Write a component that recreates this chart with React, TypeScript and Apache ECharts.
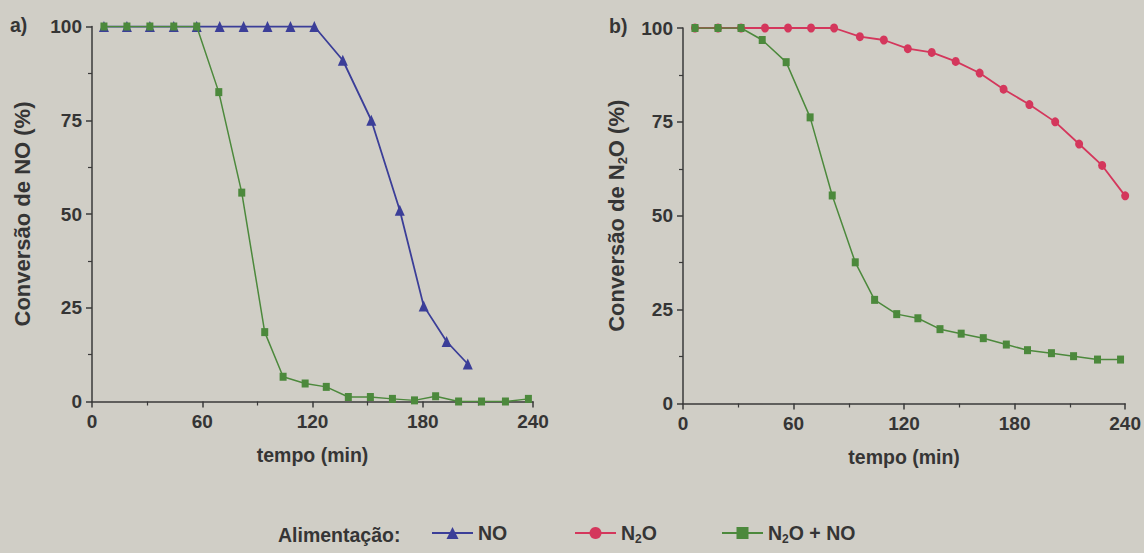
import React, { useEffect, useRef } from "react";
import * as echarts from "echarts";

// ---- data ----
const noTime = [6.5, 19, 31.5, 44.5, 57, 69.5, 82.5, 95.5, 108, 121, 136.5, 152, 167.5, 180.5, 193, 204.5];
const noConv = [100, 100, 100, 100, 100, 100, 100, 100, 100, 100, 91, 75, 51, 25.5, 16, 10];

const mixTimeA = [6.5, 19, 31.5, 44.5, 57, 69, 81.5, 94, 104, 116, 127.5, 139.5, 151.5, 163.5, 175.5, 187, 199.5, 212, 225, 237.5];
const mixConvA = [100, 100, 100, 100, 100, 82.5, 55.7, 18.5, 6.6, 4.8, 3.9, 1.2, 1.2, 0.7, 0.3, 1.4, 0, 0, 0, 0.7];

const n2oTime = [6.5, 19, 31.5, 44.5, 57, 69.5, 82, 96, 109, 122, 135, 148, 161, 174, 188, 202, 215, 227.5, 240];
const n2oConv = [100, 100, 100, 100, 100, 100, 100, 97.7, 96.8, 94.5, 93.5, 91.1, 88, 83.7, 79.6, 75, 69.1, 63.4, 55.3];

const mixTimeB = [6.5, 19, 31.5, 43, 56, 69, 81, 93.5, 104, 116, 127.5, 139.5, 151, 163, 175.5, 187, 200, 212, 225, 237.5];
const mixConvB = [100, 100, 100, 96.8, 90.9, 76.2, 55.4, 37.6, 27.6, 23.8, 22.7, 19.8, 18.6, 17.4, 15.7, 14.2, 13.4, 12.6, 11.7, 11.7];

const xTicks = { min: 0, max: 240, interval: 60 };
const yTicks = { min: 0, max: 100, interval: 25 };

const panelLabels = ["a)", "b)"];
const xName = "tempo (min)";
const yNames = ["{t|Conversão de NO (%)}", "{t|Conversão de N}{s|2}{t|O (%)}"];
const legendTitle = "Alimentação:";

// ---- styles ----
const BG = "#d0cec6";
const TXT = "#353535";
const AX = "#3a3a3a";
const BLUE = "#3b3e98";
const RED = "#d4375c";
const GREEN = "#4c893c";
const F = '"Liberation Sans",Arial,sans-serif';
const FS = 19.5;
const FT = 19;

const zip = (xs: number[], ys: number[]) => xs.map((x, i) => [x, ys[i]]);

export default function App() {
  const ref = useRef<HTMLDivElement>(null);
  useEffect(() => {
    if (!ref.current) return;
    const chart = echarts.init(ref.current, undefined, { renderer: "svg" });

    const richT = { fontFamily: F, fontSize: FS, fontWeight: "bold", color: TXT, lineHeight: 24 };
    const richS = { fontFamily: F, fontSize: 12, fontWeight: "bold", color: TXT, lineHeight: 9, verticalAlign: "bottom" };
    const richTR = { fontFamily: F, fontSize: 22, fontWeight: "bold", color: TXT, lineHeight: 26 };
    const richSR = { fontFamily: F, fontSize: 13, fontWeight: "bold", color: TXT, lineHeight: 10, verticalAlign: "bottom" };

    const mkX = (gi: number) => ({
      type: "value",
      gridIndex: gi,
      ...xTicks,
      name: xName,
      nameLocation: "middle",
      nameGap: 43,
      nameTextStyle: { fontFamily: F, fontSize: FS, fontWeight: "bold", color: TXT },
      axisLine: { show: true, onZero: false, lineStyle: { color: AX, width: 1.5 } },
      axisTick: { show: true, length: 6, lineStyle: { color: AX, width: 1.5 } },
      minorTick: { show: true, splitNumber: 2, length: 4, lineStyle: { color: AX, width: 1.2 } },
      splitLine: { show: false },
      minorSplitLine: { show: false },
      axisLabel: { margin: 10, fontFamily: F, fontSize: FT, fontWeight: "bold", color: TXT },
    });
    const mkY = (gi: number, gap: number) => ({
      type: "value",
      gridIndex: gi,
      ...yTicks,
      name: yNames[gi],
      nameLocation: "middle",
      nameGap: gap,
      nameTextStyle: { rich: { t: richTR, s: richSR } },
      axisLine: { show: true, onZero: false, lineStyle: { color: AX, width: 1.5 } },
      axisTick: { show: true, length: 6, lineStyle: { color: AX, width: 1.5 } },
      minorTick: { show: true, splitNumber: 2, length: 4, lineStyle: { color: AX, width: 1.2 } },
      splitLine: { show: false },
      minorSplitLine: { show: false },
      axisLabel: { margin: 10, fontFamily: F, fontSize: FT, fontWeight: "bold", color: TXT },
    });

    const legendFmt = (name: string) =>
      name === "NO" ? "{t|NO}" : name === "N2O" ? "{t|N}{s|2}{t|O}" : "{t|N}{s|2}{t|O + NO}";
    const mkLegend = (name: string, left: number) => ({
      data: [name],
      left,
      top: 518,
      itemWidth: 41,
      itemHeight: 15,
      formatter: legendFmt,
      textStyle: { rich: { t: richT, s: richS } },
      selectedMode: false,
    });

    const option = {
      animation: false,
      backgroundColor: BG,
      grid: [
        { left: 92, right: 611, top: 26.5, bottom: 151.5 },
        { left: 683, right: 18, top: 28, bottom: 149.5 },
      ],
      xAxis: [mkX(0), mkX(1)],
      yAxis: [mkY(0, 57), mkY(1, 54)],
      legend: [mkLegend("NO", 426), mkLegend("N2O", 569), mkLegend("N2O + NO", 716)],
      graphic: [
        { type: "text", x: 10, y: 25, style: { text: panelLabels[0], fontFamily: F, fontSize: FS, fontWeight: "bold", fill: TXT, verticalAlign: "middle" } },
        { type: "text", x: 609, y: 26, style: { text: panelLabels[1], fontFamily: F, fontSize: FS, fontWeight: "bold", fill: TXT, verticalAlign: "middle" } },
        { type: "text", x: 278, y: 535, style: { text: legendTitle, fontFamily: F, fontSize: FS, fontWeight: "bold", fill: TXT, verticalAlign: "middle" } },
      ],
      series: [
        {
          name: "NO", type: "line", xAxisIndex: 0, yAxisIndex: 0, data: zip(noTime, noConv),
          symbol: "triangle", symbolSize: [10, 11], showAllSymbol: true,
          lineStyle: { color: BLUE, width: 1.8 }, itemStyle: { color: BLUE }, z: 2,
        },
        {
          name: "N2O + NO", type: "line", xAxisIndex: 0, yAxisIndex: 0, data: zip(mixTimeA, mixConvA),
          symbol: "rect", symbolSize: [7, 8], showAllSymbol: true,
          lineStyle: { color: GREEN, width: 1.5 }, itemStyle: { color: GREEN }, z: 3,
        },
        {
          name: "N2O", type: "line", xAxisIndex: 1, yAxisIndex: 1, data: zip(n2oTime, n2oConv),
          symbol: "circle", symbolSize: [8, 9], showAllSymbol: true,
          lineStyle: { color: RED, width: 1.8 }, itemStyle: { color: RED }, z: 2,
        },
        {
          name: "N2O + NO", type: "line", xAxisIndex: 1, yAxisIndex: 1, data: zip(mixTimeB, mixConvB),
          symbol: "rect", symbolSize: [7, 8], showAllSymbol: true,
          lineStyle: { color: GREEN, width: 1.5 }, itemStyle: { color: GREEN }, z: 3,
        },
      ],
    };
    chart.setOption(option as any);
    return () => chart.dispose();
  }, []);

  return (
    <div
      ref={ref}
      style={{ position: "fixed", left: 0, top: 0, width: 1144, height: 553, background: BG }}
    />
  );
}
